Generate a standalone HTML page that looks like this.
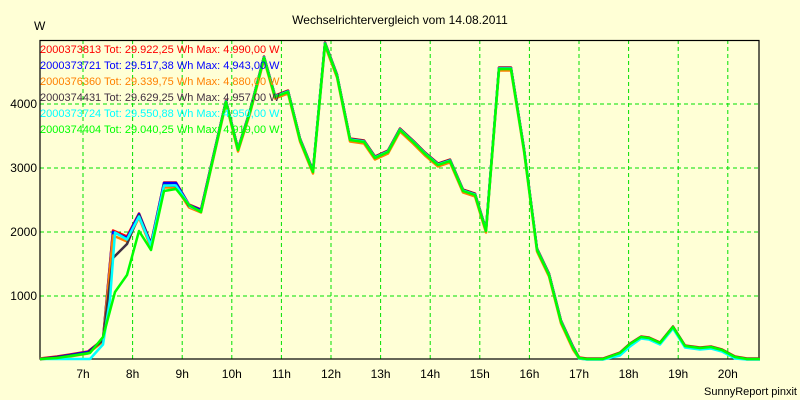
<!DOCTYPE html>
<html><head><meta charset="utf-8"><style>
html,body{margin:0;padding:0;background:#FFFFD6;}
svg{display:block;font-family:"Liberation Sans",Arial,sans-serif;}
</style></head><body>
<svg width="800" height="400" viewBox="0 0 800 400" xmlns="http://www.w3.org/2000/svg">
<rect width="800" height="400" fill="#FFFFD6"/>
<g stroke="#00E000" stroke-width="1" stroke-dasharray="4,3">
<line x1="83" y1="40" x2="83" y2="359"/><line x1="132.6" y1="40" x2="132.6" y2="359"/><line x1="182.2" y1="40" x2="182.2" y2="359"/><line x1="231.8" y1="40" x2="231.8" y2="359"/><line x1="281.4" y1="40" x2="281.4" y2="359"/><line x1="331" y1="40" x2="331" y2="359"/><line x1="380.6" y1="40" x2="380.6" y2="359"/><line x1="430.2" y1="40" x2="430.2" y2="359"/><line x1="479.8" y1="40" x2="479.8" y2="359"/><line x1="529.4" y1="40" x2="529.4" y2="359"/><line x1="579" y1="40" x2="579" y2="359"/><line x1="628.6" y1="40" x2="628.6" y2="359"/><line x1="678.2" y1="40" x2="678.2" y2="359"/><line x1="727.8" y1="40" x2="727.8" y2="359"/>
<line x1="40" y1="296" x2="759" y2="296"/><line x1="40" y1="232" x2="759" y2="232"/><line x1="40" y1="168" x2="759" y2="168"/><line x1="40" y1="104" x2="759" y2="104"/>
</g>
<rect x="40" y="40.5" width="719" height="318.5" fill="none" stroke="#000" stroke-width="1.2"/>
<g fill="none" stroke-width="2.5" stroke-linejoin="round">
<polyline stroke="#FF0000" transform="translate(0,-1.5)" points="40,360 57,358 70,356 88,353 103,341 113,232 127,238 139,215 151,245 164,184 176,184 189,206 201,211 226,102 238,150 250,112 264,58 275,97 288,92 300,140 313,172 325,44 337,76 350,140 364,142 375,158 388,152 400,130 413,142 425,154 438,165 450,161 463,191 475,195 486,231 499,69 511,69 524,150 537,250 549,275 561,322 573,348 579,359 587,360 603,360 620,354 630,345 641,338 649,339 660,344 673,328 685,347 700,349 711,348 722,351 735,358 747,360 760,360"/>
<polyline stroke="#0000FF" transform="translate(0,-1)" points="40,360 57,358 70,356 88,353 103,341 113,233 127,239 139,215 151,245 164,184 176,184 189,206 201,211 226,102 238,150 250,112 264,58 275,97 288,92 300,140 313,172 325,44 337,76 350,140 364,142 375,158 388,152 400,130 413,142 425,154 438,165 450,161 463,191 475,195 486,231 499,69 511,69 524,150 537,250 549,275 561,322 573,348 579,359 587,360 603,360 620,354 630,345 641,338 649,339 660,344 673,328 685,347 700,349 711,348 722,351 735,358 747,360 760,360"/>
<polyline stroke="#FF8000" transform="translate(0,1.5)" points="40,358 57,356 70,355 88,352 103,340 113,234 127,240 139,216 151,246 164,186 176,186 189,206 201,211 226,102 238,150 250,112 264,58 275,97 288,92 300,140 313,172 325,44 337,76 350,140 364,142 375,158 388,152 400,130 413,142 425,154 438,165 450,161 463,191 475,195 486,231 499,69 511,69 524,150 537,250 549,275 561,322 573,348 579,357 587,358 603,358 620,352 630,343 641,336 649,337 660,342 673,326 685,345 700,347 711,346 722,349 735,356 747,358 760,358"/>
<polyline stroke="#403040" transform="translate(0,-1)" points="40,360 60,358 88,354 103,341 113,259 127,245 139,216 151,246 164,186 176,187 189,207 201,212 226,102 238,150 250,112 264,58 275,97 288,92 300,140 313,172 325,44 337,76 350,140 364,142 375,158 388,152 400,130 413,142 425,154 438,165 450,161 463,191 475,195 486,231 499,69 511,69 524,150 537,250 549,275 561,322 573,348 579,359 587,360 603,360 620,354 630,345 641,338 649,339 660,344 673,328 685,347 700,349 711,348 722,351 735,358 747,360 760,360"/>
<polyline stroke="#00FFFF" transform="translate(0,-0.5)" points="40,359.5 90,359.5 103,345 110,300 115,233 127,240 139,217 151,246 164,186 176,186 190,207 201,212 226,102 238,150 250,112 264,58 275,97 288,92 300,140 313,172 325,44 337,76 350,140 364,142 375,158 388,152 400,130 413,142 425,154 438,165 450,161 463,191 475,195 486,231 499,69 511,69 524,150 537,250 549,275 561,322 573,348 579,359 587,360 603,360 620,356 630,347 641,339 649,340 660,345 673,329 685,348 700,350 711,349 722,352 735,359 747,360 760,360"/>
<polyline stroke="#00FF00" points="40,359 57,358 90,353 103,337 115,292 127,275 139,231 151,250 164,191 176,189 189,205 201,212 226,102 238,150 250,112 264,58 275,97 288,92 300,140 313,172 325,44 337,76 350,140 364,142 375,158 388,152 400,130 413,142 425,154 438,165 450,161 463,191 475,195 486,231 499,69 511,69 524,150 537,250 549,275 561,322 573,348 579,358 587,359 603,359 620,353 630,344 641,337 649,338 660,343 673,327 685,346 700,348 711,347 722,350 735,357 747,359 760,359"/>
</g>
<g font-size="12">
<text x="400" y="24" text-anchor="middle" fill="#000">Wechselrichtervergleich vom 14.08.2011</text>
<text x="34" y="30" fill="#000">W</text>
<g font-size="11">
<text x="40" y="53" fill="#FF0000">2000373813  Tot: 29.922,25 Wh Max: 4.990,00 W</text>
<text x="40" y="69" fill="#0000FF">2000373721  Tot: 29.517,38 Wh Max: 4.943,00 W</text>
<text x="40" y="85" fill="#FF8000">2000376360  Tot: 29.339,75 Wh Max: 4.880,00 W</text>
<text x="40" y="101" fill="#403040">2000374431  Tot: 29.629,25 Wh Max: 4.957,00 W</text>
<text x="40" y="117" fill="#00FFFF">2000373724  Tot: 29.550,88 Wh Max: 4.950,00 W</text>
<text x="40" y="133" fill="#00FF00">2000374404  Tot: 29.040,25 Wh Max: 4.919,00 W</text>
</g>
<g text-anchor="end" fill="#000">
<text x="37" y="300">1000</text><text x="37" y="236">2000</text><text x="37" y="172">3000</text><text x="37" y="108">4000</text>
</g>
<g text-anchor="middle" fill="#000">
<text x="83" y="378">7h</text><text x="132.6" y="378">8h</text><text x="182.2" y="378">9h</text><text x="231.8" y="378">10h</text><text x="281.4" y="378">11h</text><text x="331" y="378">12h</text><text x="380.6" y="378">13h</text><text x="430.2" y="378">14h</text><text x="479.8" y="378">15h</text><text x="529.4" y="378">16h</text><text x="579" y="378">17h</text><text x="628.6" y="378">18h</text><text x="678.2" y="378">19h</text><text x="727.8" y="378">20h</text>
</g>
<text x="797" y="395" text-anchor="end" fill="#000" font-size="11">SunnyReport pinxit</text>
</g>
</svg>
</body></html>
